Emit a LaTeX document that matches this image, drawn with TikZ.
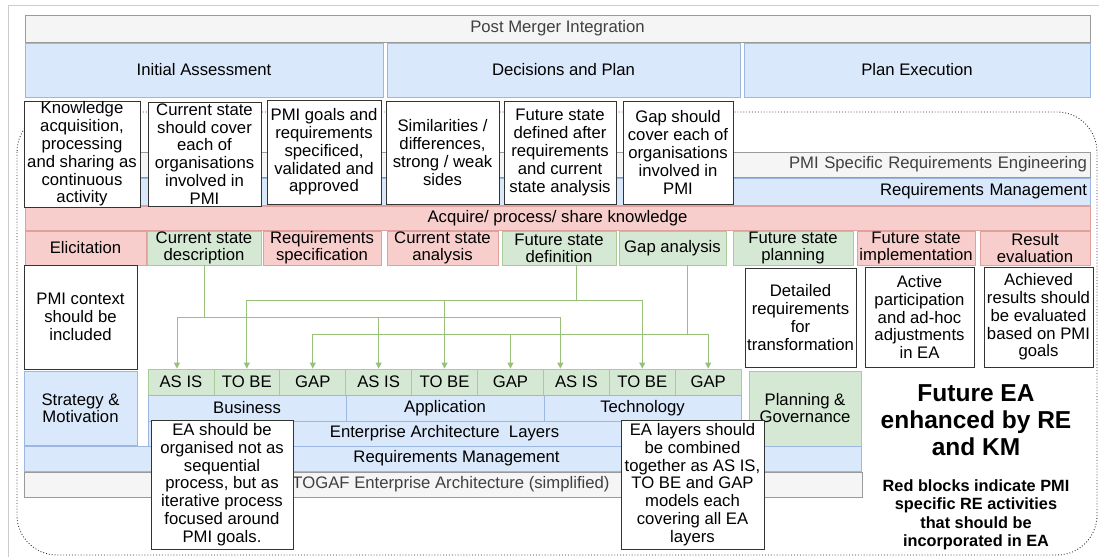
\documentclass[tikz,border=0pt]{standalone}
\usepackage{fontspec}
\setmainfont{Liberation Sans}
\usetikzlibrary{arrows.meta}

\definecolor{bluefill}{HTML}{DAE8FC}
\definecolor{blueline}{HTML}{9DB8E0}
\definecolor{redfill}{HTML}{F8CECC}
\definecolor{redline}{HTML}{E0A09D}
\definecolor{greenfill}{HTML}{D5E8D4}
\definecolor{greenline}{HTML}{A9CC96}
\definecolor{grayfill}{HTML}{F5F5F5}
\definecolor{grayline}{HTML}{9A9A9A}
\definecolor{graytext}{HTML}{404040}
\definecolor{feedgreen}{HTML}{97C17A}

\tikzset{
  spans/.style n args = {4}{at={({((#1)+(#3))/2},{((#2)+(#4))/2})},
                            minimum width={(#3)-(#1)},
                            minimum height={(#4)-(#2)}},
  block/.style     = {shape=rectangle, draw, anchor=center, inner sep=0pt,
                      align=center, line width=0.8pt,
                      font=\fontsize{16.7}{17}\selectfont},
  grayband/.style  = {block, fill=grayfill, draw=grayline, text=graytext},
  blueband/.style  = {block, fill=bluefill, draw=blueline},
  reblock/.style   = {block, fill=redfill, draw=redline},
  eablock/.style   = {block, fill=greenfill, draw=greenline},
  note/.style      = {block, fill=white, draw=black!80,
                      font=\fontsize{16.7}{17.8}\selectfont},
  feed/.style      = {draw=feedgreen, line width=0.9pt},
  feedarrow/.style = {feed, -{Triangle[length=6pt,width=6pt]}}
}

\begin{document}
\begin{tikzpicture}[x=1pt, y=-1pt]
  \useasboundingbox (0,0) rectangle (1099,557);
  \draw[black!20] (8,557) -- (8,5) -- (1099,5);
  % dotted frame around the enhanced EA
  \draw[dotted, line width=0.9pt, black!80, rounded corners=40pt]
    (17,112) rectangle (1097,555);

  % phases
  \node[grayband, spans={25}{15}{1090}{42}] (pmi) {Post Merger Integration};
  \node[blueband, spans={25}{43}{383}{97}]   (assess) {Initial Assessment};
  \node[blueband, spans={387}{43}{740}{97}]  (plan)   {Decisions and Plan};
  \node[blueband, spans={744}{43}{1090}{97}] (exec)   {Plan Execution};

  % requirements engineering bands
  \node[grayband, spans={25}{152}{1090}{177}, text width=1059, align=right]
    (pmire) {PMI Specific Requirements Engineering};
  \node[blueband, spans={25}{178}{1090}{205}, text width=1059, align=right]
    (reqmgmt) {Requirements Management};
  \node[reblock, spans={25}{206}{1090}{230}] (acquire)
    {Acquire/ process/ share knowledge};

  % activities
  \node[reblock, spans={25}{231}{146}{265}]   (elicit) {Elicitation};
  \node[eablock, spans={147}{231}{261}{265}]  (cdesc)  {Current state\\description};
  \node[reblock, spans={263}{231}{381}{265}]  (rspec)  {Requirements\\specification};
  \node[reblock, spans={387}{231}{498}{265}]  (canal)  {Current state\\analysis};
  \node[eablock, spans={502}{231}{616}{265}]  (fdef)   {Future state\\definition};
  \node[eablock, spans={619}{231}{726}{265}]  (gapan)  {Gap analysis};
  \node[eablock, spans={733}{231}{853}{265}]  (fplan)  {Future state\\planning};
  \node[reblock, spans={857}{231}{975}{265}]  (fimpl)  {Future state\\implementation};
  \node[reblock, spans={980}{231}{1090}{265}] (reval)  {Result\\evaluation};

  % enterprise architecture
  \node[blueband, spans={24}{371}{137}{445}] (strat) {Strategy \&\\Motivation};
  \foreach \n/\lbl [count=\i from 0] in {asis1/AS IS, tobe1/TO BE, gap1/GAP,
                                         asis2/AS IS, tobe2/TO BE, gap2/GAP,
                                         asis3/AS IS, tobe3/TO BE, gap3/GAP}
    \node[eablock, spans={148+65.9*\i}{369}{148+65.9*(\i+1)}{395}] (\n) {\lbl};
  \node[blueband, spans={148}{395}{346}{421}] (business) {Business};
  \node[blueband, spans={346}{395}{544}{421}] (application) {Application};
  \node[blueband, spans={544}{395}{741}{421}] (technology) {Technology};
  \node[blueband, spans={148}{421}{741}{446}] (layers)
    {Enterprise Architecture~ Layers};
  \node[eablock, spans={749}{371}{861}{446}] (governance) {Planning \&\\Governance};
  \node[blueband, spans={24}{446}{861}{471}] (reqmgmtea)
    {\hspace*{28pt}Requirements Management};
  \node[grayband, spans={24}{472}{862}{497}] (togaf)
    {\hspace*{16pt}TOGAF Enterprise Architecture (simplified)};

  % feeding the EA layers
  \coordinate (row1) at (0,317);
  \coordinate (row2) at (0,300);
  \coordinate (row3) at (0,334);
  \coordinate (cdescout) at (cdesc.south);
  \coordinate (fdefout) at ([xshift=17pt]fdef.south);
  \coordinate (gapout) at ([xshift=15pt]gapan.south);
  \draw[feed] (cdescout) -- (cdescout |- row1)
              (fdefout) -- (fdefout |- row2)
              (gapout) -- (gapout |- row3);
  \foreach \t/\dx in {asis1/-4, asis2/0, asis3/-16}
    \draw[feedarrow] (cdescout |- row1) -| ([xshift=\dx pt]\t.north);
  \foreach \t in {tobe1, tobe2, tobe3}
    \draw[feedarrow] (fdefout |- row2) -| (\t.north);
  \foreach \t in {gap1, gap2, gap3}
    \draw[feedarrow] (gapout |- row3) -| (\t.north);

  % notes
  \node[note, spans={24}{101}{140}{207}] (know)
    {Knowledge\\acquisition,\\processing\\and sharing as\\continuous\\activity};
  \node[note, spans={148}{102}{261}{206}] (cstate)
    {Current state\\should cover\\each of\\organisations\\involved in\\PMI};
  \node[note, spans={267}{100}{381}{204}] (goals)
    {PMI goals and\\requirements\\specificed,\\validated and\\approved};
  \node[note, spans={386}{101}{499}{204}] (simil)
    {Similarities /\\differences,\\strong / weak\\sides};
  \node[note, spans={504}{101}{616}{204}] (fstate)
    {Future state\\defined after\\requirements\\and current\\state analysis};
  \node[note, spans={623}{101}{733}{204}] (gapcov)
    {Gap should\\cover each of\\organisations\\involved in\\PMI};
  \node[note, spans={24}{265}{137}{369}] (context)
    {PMI context\\should be\\included};
  \node[note, spans={745}{268}{856}{367}] (detail)
    {Detailed\\requirements\\for\\transformation};
  \node[note, spans={865}{267}{974}{367}] (active)
    {Active\\participation\\and ad-hoc\\adjustments\\in EA};
  \node[note, spans={984}{267}{1093}{367}] (achieved)
    {Achieved\\results should\\be evaluated\\based on PMI\\goals};
  \node[note, spans={151}{420}{293}{549}] (iterative)
    {EA should be\\organised not as\\sequential\\process, but as\\iterative process\\focused around\\PMI goals.};
  \node[note, spans={621}{420}{764}{549}] (combined)
    {EA layers should\\be combined\\together as AS IS,\\TO BE and GAP\\models each\\covering all EA\\layers};

  \node[align=center, font=\fontsize{24.5}{27}\selectfont\bfseries] (future)
    at (976,420) {Future EA\\enhanced by RE\\and KM};
  \node[align=center, font=\fontsize{16.3}{18.5}\selectfont\bfseries] (legend)
    at (976,515) {Red blocks indicate PMI\\specific RE activities\\that should be\\incorporated in EA};
\end{tikzpicture}
\end{document}
